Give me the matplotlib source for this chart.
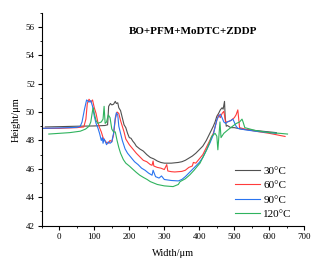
import matplotlib
matplotlib.use("Agg")
import matplotlib.pyplot as plt
from matplotlib.ticker import MultipleLocator

plt.rcParams['font.family'] = ['Liberation Serif', 'DejaVu Serif']

title = "BO+PFM+MoDTC+ZDDP"
labels = ["30°C", "60°C", "90°C", "120°C"]
colors = ["#505050", "#ff3b3b", "#2a74f0", "#2fb35e"]

x30 = [-40, 0, 50, 100, 130, 138, 141, 146, 150, 155, 160, 163, 167, 170, 175, 180, 185, 190, 195,
       200, 205, 210, 215, 220, 230, 240, 250, 260, 270, 280, 290, 300, 320, 340, 350, 360, 370,
       380, 390, 400, 410, 420, 430, 440, 445, 450, 455, 460, 465, 468, 472, 474, 477, 480, 490,
       500, 520, 540, 560, 580, 600, 620]
y30 = [48.95, 48.97, 49.0, 49.02, 49.05, 49.1, 50.4, 50.6, 50.5, 50.55, 50.75, 50.6, 50.65, 50.3,
       50.1, 49.6, 49.1, 48.9, 48.5, 48.2, 48.15, 47.95, 47.8, 47.6, 47.4, 47.25, 47.0, 46.8, 46.7,
       46.55, 46.45, 46.4, 46.4, 46.45, 46.5, 46.6, 46.75, 46.9, 47.1, 47.35, 47.6, 48.0, 48.5,
       49.0, 49.3, 49.7, 49.9, 50.15, 50.3, 50.2, 50.75, 49.6, 49.0, 49.05, 48.9, 48.9, 48.8,
       48.75, 48.7, 48.65, 48.6, 48.55]

x60 = [-50, 0, 50, 70, 76, 80, 85, 90, 95, 100, 105, 110, 115, 120, 125, 130, 135, 140, 145, 150,
       155, 160, 165, 170, 175, 180, 185, 190, 200, 210, 220, 230, 240, 250, 260, 265, 268, 270,
       280, 290, 300, 307, 310, 320, 330, 340, 350, 360, 370, 380, 383, 390, 400, 410, 420, 430,
       440, 450, 455, 460, 465, 470, 475, 480, 490, 500, 505, 510, 515, 530, 560, 600, 645]
y60 = [48.85, 48.85, 48.9, 48.95, 49.5, 50.6, 50.9, 50.7, 50.85, 50.3, 49.9, 49.3, 48.9, 48.6,
       48.2, 48.0, 47.85, 47.8, 48.0, 47.9, 48.4, 49.5, 50.0, 49.9, 49.4, 49.0, 48.6, 48.1, 47.7,
       47.4, 47.1, 46.85, 46.6, 46.5, 46.3, 46.25, 46.55, 46.2, 46.1, 46.05, 45.95, 46.3, 45.85,
       45.8, 45.78, 45.8, 45.82, 45.9, 46.1, 46.2, 46.45, 46.4, 46.7, 47.0, 47.5, 48.0, 48.5,
       49.4, 49.8, 49.6, 49.9, 50.05, 49.3, 49.3, 49.4, 49.6, 49.8, 50.15, 48.9, 48.8, 48.65,
       48.5, 48.28]

x90 = [-50, 0, 50, 60, 65, 72, 78, 85, 90, 95, 100, 105, 110, 115, 120, 123, 125, 128, 130, 135,
       140, 145, 150, 155, 160, 163, 167, 170, 175, 180, 188, 195, 205, 215, 225, 235, 245, 255,
       265, 268, 275, 285, 292, 300, 320, 340, 350, 360, 370, 380, 390, 400, 410, 420, 430, 440,
       450, 455, 460, 465, 470, 475, 480, 490, 496, 505, 510, 530, 560, 600, 620]
y90 = [48.85, 48.88, 48.92, 49.0, 49.3, 50.2, 50.85, 50.7, 50.8, 50.4, 49.7, 49.2, 48.9, 48.5,
       48.0, 48.2, 47.8, 48.1, 48.0, 47.7, 47.9, 47.8, 47.9, 48.5, 49.6, 49.95, 49.8, 49.0, 48.5,
       48.0, 47.4, 47.1, 46.8, 46.5, 46.3, 46.05, 45.9, 45.7, 45.55, 45.9, 45.45, 45.35, 45.5,
       45.25, 45.18, 45.15, 45.25, 45.45, 45.7, 45.95, 46.2, 46.45, 46.8, 47.3, 47.8, 48.4,
       49.45, 49.7, 49.85, 49.6, 49.3, 49.2, 49.3, 49.4, 49.5, 49.0, 48.85, 48.75, 48.65, 48.55,
       48.5]

x120 = [-30, 0, 30, 60, 75, 85, 90, 95, 97, 100, 105, 110, 115, 120, 125, 128, 131, 135, 140,
        145, 150, 155, 160, 165, 170, 175, 183, 190, 200, 211, 220, 230, 240, 251, 260, 270, 280,
        290, 300, 310, 325, 340, 345, 360, 373, 385, 395, 402, 410, 421, 430, 435, 445, 450, 453,
        459, 462, 470, 482, 495, 506, 515, 522, 525, 530, 560, 600, 630, 652]
y120 = [48.45, 48.5, 48.55, 48.65, 48.8, 49.0, 49.3, 50.1, 50.3, 49.9, 49.4, 49.2, 49.25, 49.3,
        49.5, 50.4, 49.2, 49.3, 49.8, 49.6, 48.8, 48.6, 48.6, 48.0, 47.5, 47.1, 46.65, 46.4, 46.2,
        45.95, 45.75, 45.55, 45.4, 45.25, 45.1, 45.0, 44.9, 44.85, 44.8, 44.78, 44.75, 44.9, 45.1,
        45.3, 45.58, 45.9, 46.2, 46.4, 46.8, 47.34, 47.9, 48.28, 48.5, 48.3, 47.34, 49.3, 48.2,
        48.5, 48.75, 49.0, 49.2, 49.3, 49.5, 49.3, 48.9, 48.7, 48.55, 48.5, 48.45]

xs = [x30, x60, x90, x120]
ys = [y30, y60, y90, y120]

fig = plt.figure(figsize=(3.19, 2.68), dpi=100)
ax = fig.add_axes([0.131, 0.158, 0.823, 0.795])
for x, y, c, l in zip(xs, ys, colors, labels):
    ax.plot(x, y, color=c, lw=0.8, label=l)

ax.set_xlim(-50, 700)
ax.set_ylim(42, 57)
ax.xaxis.set_major_locator(MultipleLocator(100))
ax.xaxis.set_minor_locator(MultipleLocator(50))
ax.yaxis.set_major_locator(MultipleLocator(2))
ax.yaxis.set_minor_locator(MultipleLocator(1))
ax.set_yticks([42, 44, 46, 48, 50, 52, 54, 56])
ax.spines['top'].set_visible(False)
ax.spines['right'].set_visible(False)
for s in ['left', 'bottom']:
    ax.spines[s].set_linewidth(0.8)
ax.tick_params(which='major', direction='out', length=3, width=0.8, labelsize=6.5, pad=2)
ax.tick_params(which='minor', direction='out', length=1.6, width=0.6)
ax.set_xlabel("Width/μm", fontsize=7.5, labelpad=6)
ax.set_ylabel("Height/μm", fontsize=7.5, labelpad=4)
ax.text(0.576, 0.91, title, transform=ax.transAxes, ha='center', va='center',
        fontsize=8, fontweight='bold')
ax.legend(loc='upper left', bbox_to_anchor=(235 / 319, 1 - 166 / 268),
          bbox_transform=fig.transFigure, frameon=False, fontsize=8,
          handlelength=2.25, handletextpad=0.3, labelspacing=0.42, borderpad=0,
          borderaxespad=0)

fig.savefig("out.png", dpi=100)
